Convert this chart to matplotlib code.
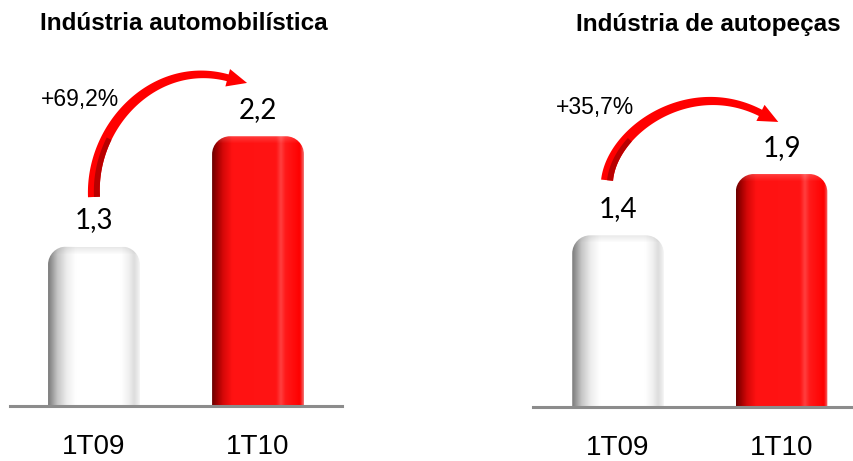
import numpy as np
import matplotlib
matplotlib.use("Agg")
import matplotlib.pyplot as plt
from matplotlib.path import Path
from matplotlib.patches import PathPatch, Polygon
from matplotlib.colors import LinearSegmentedColormap

plt.rcParams['font.family'] = ['Liberation Sans', 'DejaVu Sans']

categories = ["1T09", "1T10"]
auto_title = "Indústria automobilística"
parts_title = "Indústria de autopeças"
auto_values = [1.3, 2.2]
parts_values = [1.4, 1.9]
auto_change = "+69,2%"
parts_change = "+35,7%"

white_cmap = LinearSegmentedColormap.from_list("white_bar", [
    (0.0, "#7a7a7a"), (0.04, "#969696"), (0.10, "#c4c4c4"), (0.20, "#ececec"),
    (0.30, "#ffffff"), (0.80, "#ffffff"), (0.88, "#f0f0f0"), (0.94, "#dcdcdc"),
    (0.98, "#ececec"), (1.0, "#f4f4f4")])
red_cmap = LinearSegmentedColormap.from_list("red_bar", [
    (0.0, "#6a0000"), (0.05, "#9c0000"), (0.12, "#d60808"), (0.22, "#ff1212"),
    (0.70, "#ff1414"), (0.75, "#ff4040"), (0.80, "#ff1a1a"), (0.96, "#ff0000"),
    (1.0, "#f07070")])

W, H = 854, 461
fig = plt.figure(figsize=(W / 100, H / 100), dpi=100)


def px_scale(ax):
    a = ax.transData.transform([(0, 0), (1, 1)])
    return a[1, 0] - a[0, 0], a[1, 1] - a[0, 1]


def rounded_bar(ax, rect, cmap, top_rgb, top_alpha, r_px=18):
    x0, w, h = rect.get_x(), rect.get_width(), rect.get_height()
    sx, sy = px_scale(ax)
    rx, ry = r_px / sx, r_px / sy
    k = 0.5523
    verts = [(x0, 0), (x0, h - ry), (x0, h - ry + k * ry), (x0 + rx - k * rx, h), (x0 + rx, h),
             (x0 + w - rx, h), (x0 + w - rx + k * rx, h), (x0 + w, h - ry + k * ry), (x0 + w, h - ry),
             (x0 + w, 0), (x0, 0)]
    codes = [Path.MOVETO, Path.LINETO, Path.CURVE4, Path.CURVE4, Path.CURVE4, Path.LINETO,
             Path.CURVE4, Path.CURVE4, Path.CURVE4, Path.LINETO, Path.CLOSEPOLY]
    patch = PathPatch(Path(verts, codes), facecolor='none', edgecolor='none')
    ax.add_patch(patch)
    grad = np.linspace(0, 1, 256).reshape(1, -1)
    im = ax.imshow(grad, cmap=cmap, extent=(x0, x0 + w, 0, h), aspect='auto',
                   origin='lower', interpolation='bicubic')
    im.set_clip_path(patch)
    # soft rim at the top of the bar
    n = 40
    top = np.zeros((n, 1, 4))
    top[..., :3] = top_rgb
    fade = np.clip((np.arange(n) - (n - 8)) / 8.0, 0, 1)
    top[:, 0, 3] = top_alpha * fade
    band = 40 / sy
    im2 = ax.imshow(top, extent=(x0, x0 + w, h - band, h), aspect='auto',
                    origin='lower', interpolation='bilinear')
    im2.set_clip_path(patch)


def draw_arrow(ax, tail, tip, tail_dir, h1, h2, ang):
    T = ax.transData
    p0 = T.transform(tail)
    ptip = T.transform(tip)
    u = np.array([np.cos(np.radians(ang)), -np.sin(np.radians(ang))])
    p3 = ptip - 20 * u
    d0 = np.array(tail_dir, float)
    d0 /= np.linalg.norm(d0)
    p1 = p0 + h1 * d0
    p2 = p3 - h2 * u
    t = np.linspace(0, 1, 80)[:, None]
    B = (1 - t) ** 3 * p0 + 3 * (1 - t) ** 2 * t * p1 + 3 * (1 - t) * t ** 2 * p2 + t ** 3 * p3
    dB = 3 * (1 - t) ** 2 * (p1 - p0) + 6 * (1 - t) * t * (p2 - p1) + 3 * t ** 2 * (p3 - p2)
    nrm = np.column_stack([-dB[:, 1], dB[:, 0]])
    nrm /= np.linalg.norm(nrm, axis=1)[:, None]
    hw = (12 + (7 - 12) * t) / 2
    outer = B + nrm * hw
    inner = B - nrm * hw
    nu = np.array([-u[1], u[0]])
    head = np.array([p3 + nu * 9, ptip, p3 - nu * 9])
    poly = np.vstack([outer, head, inner[::-1]])
    inv = T.inverted()
    ax.add_patch(Polygon(inv.transform(poly), closed=True, facecolor='#ff0000',
                         edgecolor='none', clip_on=False, zorder=5))
    m = t[:, 0] < 0.3
    shade = np.vstack([B[m], inner[m][::-1]])
    ax.add_patch(Polygon(inv.transform(shade), closed=True, facecolor='#b80000',
                         edgecolor='none', clip_on=False, zorder=6))


def panel(rect_px, xlim, values, title, title_x, change, change_xy,
          tail, tip, tail_dir, h1, h2, ang):
    l, b, w, h = rect_px
    ax = fig.add_axes([l / W, b / H, w / W, h / H])
    ax.set_xlim(xlim)
    ax.set_ylim(0, h / 122.6)
    ax.axis('off')
    x = np.arange(len(values))
    bars = ax.bar(x, values, 0.56, color='none')
    rounded_bar(ax, bars[0], white_cmap, (0.55, 0.55, 0.55), 0.22)
    rounded_bar(ax, bars[1], red_cmap, (1.0, 1.0, 1.0), 0.2)
    ax.set_xlim(xlim)
    ax.set_ylim(0, h / 122.6)
    ax.axhline(0, color='#8c8c8c', lw=2.2, clip_on=False, zorder=4)
    for xi, v in zip(x, values):
        ax.annotate(f"{v:.1f}".replace(".", ","), (xi, v), xytext=(0, 19),
                    textcoords='offset points', ha='center', va='center',
                    fontsize=20, family='Lato')
    for xi, c in zip(x, categories):
        ax.annotate(c, (xi, 0), xytext=(0, -34.5), textcoords='offset points',
                    ha='center', va='baseline', fontsize=20, annotation_clip=False)
    ax.text(change_xy[0], change_xy[1], change, ha='center', va='center',
            fontsize=16.5)
    draw_arrow(ax, (x[0] + tail[0], values[0] + tail[1]),
               (x[1] + tip[0], values[1] + tip[1]), tail_dir, h1, h2, ang)
    fig.text(title_x / W, 1 - 24 / H, title, ha='center', va='center',
             fontsize=17.5, fontweight='bold')
    return ax


panel((10, 55, 332, 406), (-0.512, 1.512), auto_values, auto_title, 184,
      auto_change, (-0.085, 2.50), (0.0, 0.405), (-0.067, 0.435), (-0.05, 1), 72, 75, 15)
panel((533, 54, 321, 407), (-0.52, 1.443), parts_values, parts_title, 708,
      parts_change, (-0.138, 2.44), (-0.067, 0.45), (-0.02, 0.425), (0.1, 1), 50, 80, 27)

fig.savefig("out.png", dpi=100)
